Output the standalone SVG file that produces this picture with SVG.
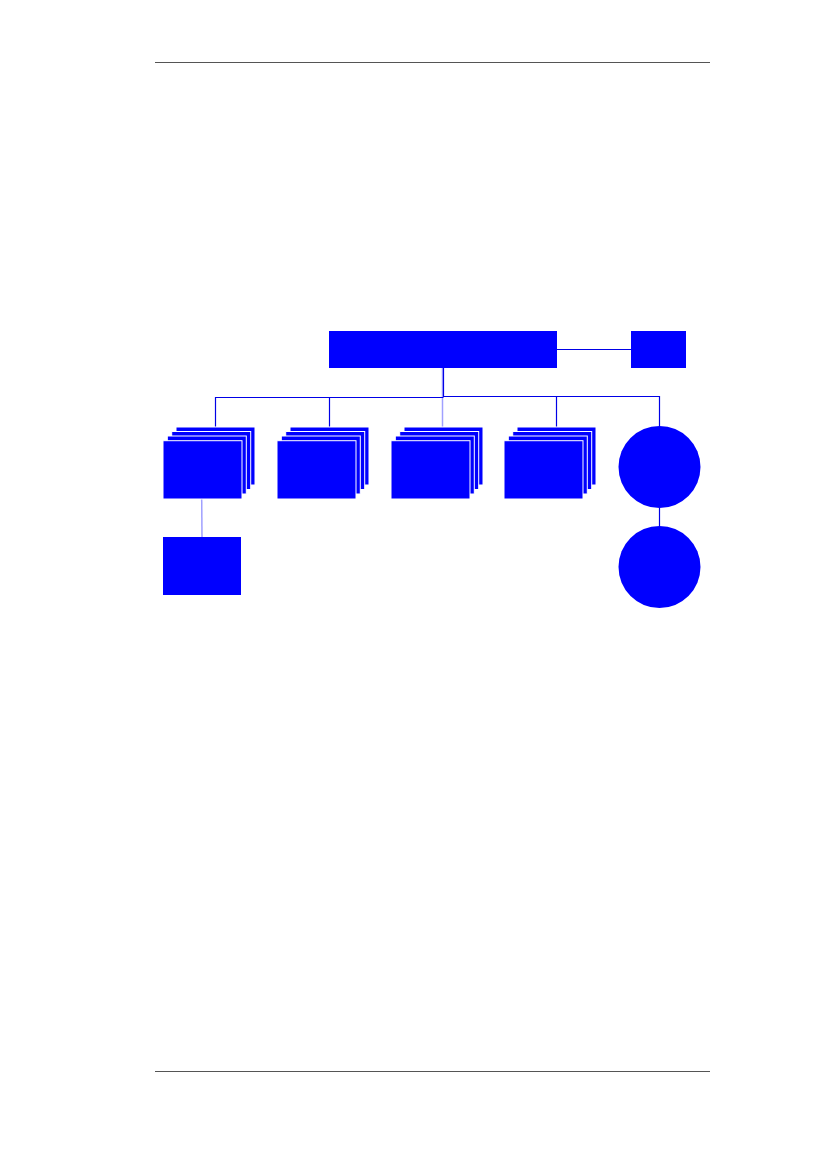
<svg xmlns="http://www.w3.org/2000/svg" width="827" height="1169" viewBox="0 0 827 1169">
<style>
.n{fill:#0000ff}
.l{fill:#0000ff;stroke:#ffffff;stroke-width:1}
.c{stroke:#0000e6;stroke-width:1.2;fill:none}
.c2{stroke:#a0a0ff;stroke-width:1.5;fill:none}
.rule{stroke:#555555;stroke-width:1.2}
</style>
<defs>
<g id="stack">
<rect class="l" x="13" y="0" width="79" height="58"/>
<rect class="l" x="8.7" y="4.5" width="79" height="58"/>
<rect class="l" x="4.3" y="9" width="79" height="58"/>
<rect class="l" x="0" y="13.7" width="79" height="58.3"/>
</g>
</defs>
<line class="rule" x1="155" y1="62.5" x2="710" y2="62.5"/>
<line class="rule" x1="155" y1="1071.5" x2="710" y2="1071.5"/>
<g id="connectors">
<line class="c" x1="557" y1="349.5" x2="631" y2="349.5"/>
<line class="c2" x1="442.5" y1="368" x2="442.5" y2="427"/>
<line class="c" x1="443.5" y1="368" x2="443.5" y2="397"/>
<line class="c" x1="215.5" y1="397.5" x2="443.5" y2="397.5"/>
<line class="c" x1="443.5" y1="396.5" x2="659.5" y2="396.5"/>
<line class="c" x1="215.5" y1="397" x2="215.5" y2="427"/>
<line class="c" x1="329.5" y1="397" x2="329.5" y2="427"/>
<line class="c" x1="556.5" y1="396" x2="556.5" y2="427"/>
<line class="c" x1="659.5" y1="396" x2="659.5" y2="426"/>
<line class="c" x1="659.5" y1="508" x2="659.5" y2="526"/>
<line class="c2" x1="201.7" y1="499" x2="202" y2="537"/>
</g>
<g id="main"><rect class="n" x="329" y="331" width="228" height="37"/></g>
<g id="side"><rect class="n" x="631" y="331" width="55" height="37"/></g>
<g id="stack1"><use href="#stack" x="163" y="427"/></g>
<g id="stack2"><use href="#stack" x="277" y="427"/></g>
<g id="stack3"><use href="#stack" x="391" y="427"/></g>
<g id="stack4"><use href="#stack" x="504" y="427"/></g>
<g id="child"><rect class="n" x="163" y="537" width="78" height="58"/></g>
<g id="circle1"><circle class="n" cx="659.5" cy="467" r="41"/></g>
<g id="circle2"><circle class="n" cx="659.5" cy="567" r="41"/></g>
</svg>
